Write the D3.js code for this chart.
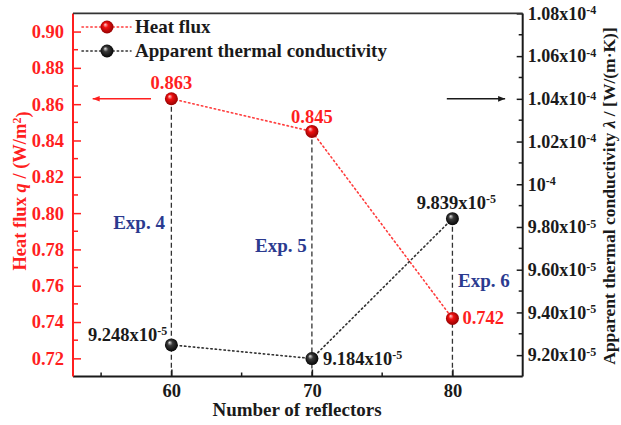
<!DOCTYPE html>
<html><head><meta charset="utf-8">
<script src="https://cdn.jsdelivr.net/npm/d3@7"></script>
<style>body{margin:0;background:#fff}svg{display:block}text{font-family:"Liberation Serif","Times New Roman",serif;font-weight:bold}</style>
</head><body><svg id="c" width="621" height="425"></svg>
<script>
// ---- data ----
const reflectors = [60, 70, 80];
const heatFlux = [0.863, 0.845, 0.742];
const heatFluxLabels = ["0.863", "0.845", "0.742"];
const conductivity = [9.248e-5, 9.184e-5, 9.839e-5];
const condMantissa = ["9.248x10", "9.184x10", "9.839x10"];
const condExponent = ["-5", "-5", "-5"];
const expLabels = ["Exp. 4", "Exp. 5", "Exp. 6"];
const xTicks = [60, 70, 80];
const xMinor = [55, 65, 75];
const leftTicks = [0.72, 0.74, 0.76, 0.78, 0.80, 0.82, 0.84, 0.86, 0.88, 0.90];
const leftMinor = [0.73, 0.75, 0.77, 0.79, 0.81, 0.83, 0.85, 0.87, 0.89];
const rightTicks = [9.2e-5, 9.4e-5, 9.6e-5, 9.8e-5, 1.0e-4, 1.02e-4, 1.04e-4, 1.06e-4, 1.08e-4];
const rightMantissa = ["9.20x10", "9.40x10", "9.60x10", "9.80x10", "10", "1.02x10", "1.04x10", "1.06x10", "1.08x10"];
const rightExponent = ["-5", "-5", "-5", "-5", "-4", "-4", "-4", "-4", "-4"];
const rightMinor = [9.3e-5, 9.5e-5, 9.7e-5, 9.9e-5, 1.01e-4, 1.03e-4, 1.05e-4, 1.07e-4];
const legendNames = ["Heat flux", "Apparent thermal conductivity"];

// ---- layout ----
const M = {l: 73, r: 98.3, t: 13.4, b: 48.5};
const W = 621, H = 425;
const svg = d3.select("#c");
const RED = "#ff1f1f", BLUE = "#2b3a8f", BLK = "#1a1a1a";

const x = d3.scaleLinear().domain([53, 85]).range([M.l, W - M.r]);
const yL = d3.scaleLinear().domain([0.71, 0.91]).range([H - M.b, M.t]);
const yR = d3.scaleLinear().domain([9.1e-5, 1.08e-4]).range([H - M.b, M.t]);

// gradients
const defs = svg.append("defs");
function sphere(id, hi, mid, dark) {
  const g = defs.append("radialGradient").attr("id", id).attr("cx", "0.5").attr("cy", "0.5").attr("r", "0.55").attr("fx", "0.35").attr("fy", "0.3");
  g.append("stop").attr("offset", "0").attr("stop-color", hi);
  g.append("stop").attr("offset", "0.35").attr("stop-color", mid);
  g.append("stop").attr("offset", "1").attr("stop-color", dark);
}
sphere("gRed", "#ffd6d6", "#f01010", "#8a0000");
sphere("gBlk", "#e6e6e6", "#3a3a3a", "#000");
defs.append("marker").attr("id", "arR").attr("viewBox", "0 0 10 10").attr("refX", 10).attr("refY", 5)
  .attr("markerWidth", 9).attr("markerHeight", 7).attr("markerUnits", "userSpaceOnUse").attr("orient", "auto")
  .append("path").attr("d", "M0,1L10,5L0,9Z").attr("fill", RED);
defs.append("marker").attr("id", "arK").attr("viewBox", "0 0 10 10").attr("refX", 10).attr("refY", 5)
  .attr("markerWidth", 9).attr("markerHeight", 7).attr("markerUnits", "userSpaceOnUse").attr("orient", "auto")
  .append("path").attr("d", "M0,1L10,5L0,9Z").attr("fill", BLK);

// vertical dashed drop lines
svg.append("g").selectAll("line").data(reflectors).join("line")
  .attr("x1", d => x(d)).attr("x2", d => x(d))
  .attr("y1", (d, i) => Math.min(yL(heatFlux[i]), yR(conductivity[i])))
  .attr("y2", H - M.b)
  .attr("stroke", "#333").attr("stroke-width", 1.3).attr("stroke-dasharray", "5,3");

// axes
const bottom = svg.append("g").attr("transform", `translate(0,${H - M.b})`)
  .call(d3.axisBottom(x).tickValues(xTicks).tickSize(-7).tickPadding(7).tickFormat(d3.format("d")));
bottom.append("g").selectAll("line").data(xMinor).join("line")
  .attr("x1", d => x(d)).attr("x2", d => x(d)).attr("y1", 0).attr("y2", -4);
bottom.select(".domain").attr("stroke", BLK).attr("stroke-width", 2).attr("d", `M${M.l},0H${W - M.r}`);
bottom.selectAll("line").attr("stroke", BLK).attr("stroke-width", 1.5);
bottom.selectAll("text").attr("font-size", 18.5).attr("fill", BLK).attr("font-family", "Liberation Serif").attr("font-weight", "bold");

const left = svg.append("g").attr("transform", `translate(${M.l},0)`)
  .call(d3.axisLeft(yL).tickValues(leftTicks).tickSize(-8).tickPadding(9).tickFormat(d3.format(".2f")));
left.append("g").selectAll("line").data(leftMinor).join("line")
  .attr("y1", d => yL(d)).attr("y2", d => yL(d)).attr("x1", 0).attr("x2", 5);
left.select(".domain").attr("stroke", RED).attr("stroke-width", 2).attr("d", `M0,${H - M.b}V${M.t}`);
left.selectAll("line").attr("stroke", RED).attr("stroke-width", 1.5);
left.selectAll("text").attr("font-size", 18.5).attr("fill", RED).attr("font-family", "Liberation Serif").attr("font-weight", "bold");

const right = svg.append("g").attr("transform", `translate(${W - M.r},0)`)
  .call(d3.axisRight(yR).tickValues(rightTicks).tickSize(-6).tickPadding(5));
right.append("g").selectAll("line").data(rightMinor).join("line")
  .attr("y1", d => yR(d)).attr("y2", d => yR(d)).attr("x1", 0).attr("x2", -4);
right.select(".domain").attr("stroke", BLK).attr("stroke-width", 2).attr("d", `M0,${H - M.b}V${M.t}`);
right.selectAll("line").attr("stroke", BLK).attr("stroke-width", 1.5);
right.selectAll(".tick text").each(function(d, i) {
  const t = d3.select(this).text(null).attr("font-size", 18).attr("fill", BLK)
    .attr("font-family", "Liberation Serif").attr("font-weight", "bold");
  t.append("tspan").text(rightMantissa[i]);
  t.append("tspan").attr("dy", "-0.45em").attr("font-size", 12).text(rightExponent[i]);
});

// top frame
svg.append("line").attr("x1", M.l).attr("x2", W - M.r).attr("y1", M.t).attr("y2", M.t)
  .attr("stroke", "#333").attr("stroke-width", 1.8);

// series lines
const lineHF = d3.line().x((d, i) => x(reflectors[i])).y(d => yL(d));
const lineK = d3.line().x((d, i) => x(reflectors[i])).y(d => yR(d));
svg.append("path").attr("d", lineHF(heatFlux)).attr("fill", "none").attr("stroke", "#ff3b3b")
  .attr("stroke-width", 1.6).attr("stroke-dasharray", "1.4,3").attr("stroke-linecap", "round");
svg.append("path").attr("d", lineK(conductivity)).attr("fill", "none").attr("stroke", "#333")
  .attr("stroke-width", 1.6).attr("stroke-dasharray", "1.4,3").attr("stroke-linecap", "round");

// markers
svg.append("g").selectAll("circle").data(heatFlux).join("circle")
  .attr("cx", (d, i) => x(reflectors[i])).attr("cy", d => yL(d)).attr("r", 6.5).attr("fill", "url(#gRed)");
svg.append("g").selectAll("circle").data(conductivity).join("circle")
  .attr("cx", (d, i) => x(reflectors[i])).attr("cy", d => yR(d)).attr("r", 6.5).attr("fill", "url(#gBlk)");

// value labels (heat flux)
const hfPos = [{dx: 0, dy: -10, a: "middle"}, {dx: 0, dy: -8, a: "middle"}, {dx: 10, dy: 6, a: "start"}];
svg.append("g").selectAll("text").data(heatFlux).join("text")
  .attr("x", (d, i) => x(reflectors[i]) + hfPos[i].dx).attr("y", (d, i) => yL(d) + hfPos[i].dy)
  .attr("text-anchor", (d, i) => hfPos[i].a).attr("font-size", 18.5).attr("fill", RED)
  .text((d, i) => heatFluxLabels[i]);

// value labels (conductivity)
const kPos = [{dx: -4, dy: -4, a: "end"}, {dx: 11, dy: 6, a: "start"}, {dx: 4, dy: -10, a: "middle"}];
svg.append("g").selectAll("text").data(conductivity).join("text")
  .attr("x", (d, i) => x(reflectors[i]) + kPos[i].dx).attr("y", (d, i) => yR(d) + kPos[i].dy)
  .attr("text-anchor", (d, i) => kPos[i].a).attr("font-size", 18.5).attr("fill", BLK)
  .each(function(d, i) {
    const t = d3.select(this);
    t.append("tspan").text(condMantissa[i]);
    t.append("tspan").attr("dy", "-0.45em").attr("font-size", 12).text(condExponent[i]);
  });

// Exp labels (positions in data units)
const expX = [57.7, 67.8, 80.4];
const expY = [0.7914, 0.7787, 0.7594];
svg.append("g").selectAll("text").data(expLabels).join("text")
  .attr("x", (d, i) => x(expX[i])).attr("y", (d, i) => yL(expY[i]))
  .attr("text-anchor", (d, i) => i === 2 ? "start" : "middle")
  .attr("font-size", 19).attr("fill", BLUE).text(d => d);

// arrows
svg.append("line").attr("x1", x(58.55)).attr("x2", x(54.4)).attr("y1", yL(0.863)).attr("y2", yL(0.863))
  .attr("stroke", RED).attr("stroke-width", 1.5).attr("marker-end", "url(#arR)");
svg.append("line").attr("x1", x(79.6)).attr("x2", x(83.75)).attr("y1", yR(1.04e-4)).attr("y2", yR(1.04e-4))
  .attr("stroke", BLK).attr("stroke-width", 1.5).attr("marker-end", "url(#arK)");

// legend
const lg = svg.append("g");
const legColor = ["#ff3b3b", "#333"], legFill = ["url(#gRed)", "url(#gBlk)"], legY = [27, 51];
legendNames.forEach((n, i) => {
  lg.append("line").attr("x1", 82).attr("x2", 131).attr("y1", legY[i]).attr("y2", legY[i])
    .attr("stroke", legColor[i]).attr("stroke-width", 1.6).attr("stroke-dasharray", "1.4,3").attr("stroke-linecap", "round");
  lg.append("circle").attr("cx", 107).attr("cy", legY[i]).attr("r", 6.5).attr("fill", legFill[i]);
  lg.append("text").attr("x", 135).attr("y", legY[i] + 6).attr("font-size", 19).attr("fill", BLK).text(n);
});

// axis titles
svg.append("text").attr("x", 297).attr("y", 416).attr("text-anchor", "middle").attr("font-size", 19)
  .attr("fill", BLK).text("Number of reflectors");

const lt = svg.append("text").attr("transform", `translate(26,191) rotate(-90)`).attr("text-anchor", "middle")
  .attr("font-size", 18.5).attr("fill", RED);
lt.append("tspan").text("Heat flux ");
lt.append("tspan").attr("font-style", "italic").text("q");
lt.append("tspan").text(" / (W/m");
lt.append("tspan").attr("dy", "-0.45em").attr("font-size", 12).text("2");
lt.append("tspan").attr("dy", "0.45em").text(")");

const rt = svg.append("text").attr("transform", `translate(615,196) rotate(-90)`).attr("text-anchor", "middle")
  .attr("font-size", 17.5).attr("fill", BLK);
rt.append("tspan").text("Apparent thermal conductivity ");
rt.append("tspan").attr("font-style", "italic").text("λ");
rt.append("tspan").text(" / [W/(m·K)]");
</script></body></html>
